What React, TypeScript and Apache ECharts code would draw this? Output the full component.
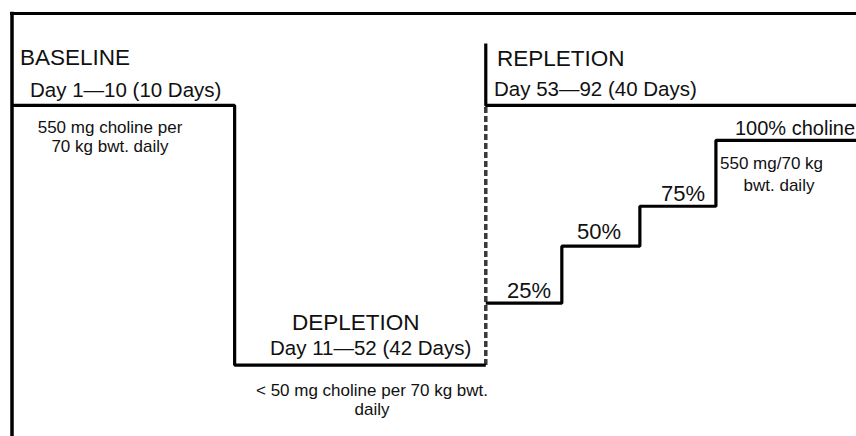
import React, { useEffect, useRef } from "react";
import * as echarts from "echarts";

// Schematic positions (not to scale): x = position along study timeline, y = relative intake level
const phaseBoundaryX = [0, 223, 474, 550, 628, 704, 844];
const baselineLevel = 331;
const depletionLevel = 71;
const repletionHeaderTop = 393;
const repletionStepLevels = [133, 190, 230, 296]; // 25%, 50%, 75%, 100%

const phaseTitles = ["BASELINE", "DEPLETION", "REPLETION"];
const phaseDays = ["Day 1\u201410 (10 Days)", "Day 11\u201452 (42 Days)", "Day 53\u201492 (40 Days)"];
const baselineNote = ["550 mg choline per", "70 kg bwt. daily"];
const depletionNote = ["< 50 mg choline per 70 kg bwt.", "daily"];
const stepLabels = ["25%", "50%", "75%", "100% choline"];
const fullDoseNote = ["550 mg/70 kg", "bwt. daily"];

const FONT = "'Liberation Sans', Arial, Helvetica, sans-serif";

function txt(text: string, x: number, y: number, size: number, align: "left" | "center" | "right" = "left") {
  return {
    type: "text",
    x,
    y,
    silent: true,
    style: {
      text,
      fill: "#111",
      font: `${size}px ${FONT}`,
      textAlign: align,
      textVerticalAlign: "middle",
    },
  };
}

export default function App() {
  const ref = useRef<HTMLDivElement>(null);
  useEffect(() => {
    if (!ref.current) return;
    const chart = echarts.init(ref.current, null, { renderer: "svg" });
    const bx = phaseBoundaryX;

    const baselineDepletion = [
      [bx[0], baselineLevel],
      [bx[1], baselineLevel],
      [bx[1], depletionLevel],
      [bx[2], depletionLevel],
    ];
    const dashed = [
      [bx[2], depletionLevel],
      [bx[2], baselineLevel],
    ];
    const repletionHeader = [
      [bx[2], repletionHeaderTop],
      [bx[2], baselineLevel],
      [bx[6], baselineLevel],
    ];
    const steps = [
      [bx[2], repletionStepLevels[0]],
      [bx[3], repletionStepLevels[1]],
      [bx[4], repletionStepLevels[2]],
      [bx[5], repletionStepLevels[3]],
      [bx[6], repletionStepLevels[3]],
    ];

    const solid = { color: "#000", width: 3.2 };

    chart.setOption({
      animation: false,
      grid: { left: 11.5, right: 0, top: 13.5, bottom: 0 },
      xAxis: {
        type: "value",
        min: 0,
        max: 844,
        position: "top",
        axisLine: { show: true, onZero: false, lineStyle: { color: "#000", width: 3, cap: "square" } },
        axisTick: { show: false },
        axisLabel: { show: false },
        splitLine: { show: false },
      },
      yAxis: {
        type: "value",
        min: 0,
        max: 423,
        axisLine: { show: true, onZero: false, lineStyle: { color: "#000", width: 3.5, cap: "square" } },
        axisTick: { show: false },
        axisLabel: { show: false },
        splitLine: { show: false },
      },
      series: [
        {
          type: "line",
          data: dashed,
          symbol: "none",
          lineStyle: { color: "#3a3a3a", width: 3.5, type: [6, 3] },
          clip: false,
        },
        {
          type: "line",
          data: baselineDepletion,
          symbol: "none",
          lineStyle: solid,
          clip: false,
        },
        {
          type: "line",
          data: repletionHeader,
          symbol: "none",
          lineStyle: solid,
          clip: false,
        },
        {
          type: "line",
          data: steps,
          step: "end",
          symbol: "none",
          lineStyle: solid,
          clip: false,
        },
      ],
      graphic: [
        txt(phaseTitles[0], 20, 57, 22.5),
        txt(phaseDays[0], 30, 89, 20.5),
        txt(baselineNote[0], 110, 127, 17, "center"),
        txt(baselineNote[1], 110, 146, 17, "center"),
        txt(phaseTitles[1], 292, 322, 22.5),
        txt(phaseDays[1], 270, 347, 20.5),
        txt(depletionNote[0], 372, 390, 17, "center"),
        txt(depletionNote[1], 372, 409, 17, "center"),
        txt(phaseTitles[2], 497, 58, 22.5),
        txt(phaseDays[2], 494, 88, 20.5),
        txt(stepLabels[0], 507, 290, 22),
        txt(stepLabels[1], 577, 231, 22),
        txt(stepLabels[2], 661, 193, 22),
        txt(stepLabels[3], 735, 128, 20),
        txt(fullDoseNote[0], 720, 163, 17),
        txt(fullDoseNote[1], 779, 185, 17, "center"),
      ],
    });
    return () => chart.dispose();
  }, []);
  return (
    <div
      ref={ref}
      style={{ position: "fixed", left: 0, top: 0, width: 856, height: 436, background: "#fff" }}
    />
  );
}
